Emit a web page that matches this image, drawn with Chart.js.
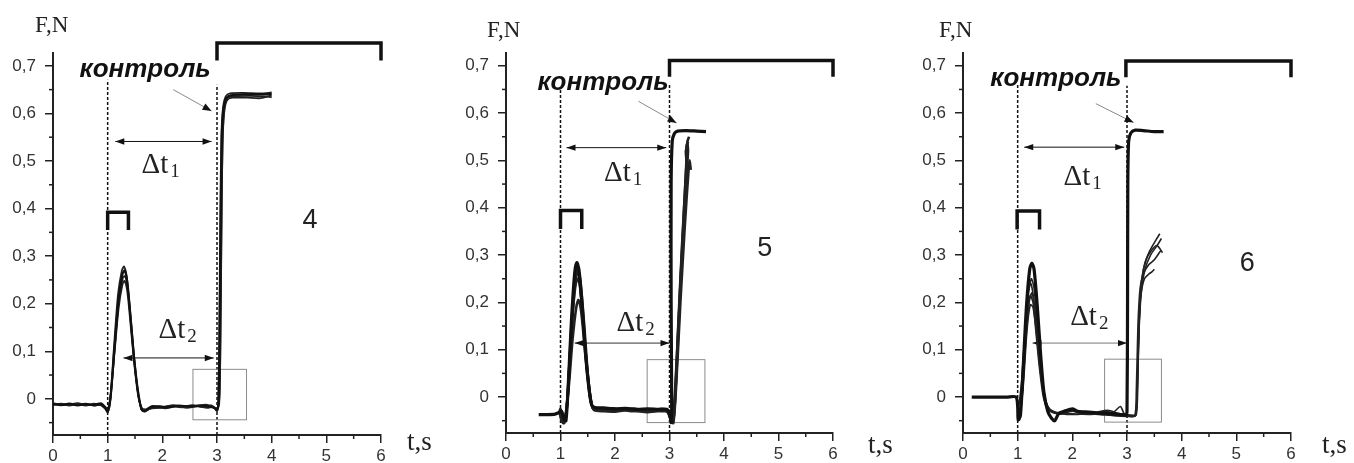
<!DOCTYPE html>
<html>
<head>
<meta charset="utf-8">
<script src="https://cdn.jsdelivr.net/npm/chart.js@4.4.1/dist/chart.umd.min.js"></script>
<style>
  body { margin: 0; background: #fff; width: 1354px; height: 463px; overflow: hidden; position: relative; }
  canvas { position: absolute; top: 0; }
</style>
</head>
<body>
<canvas id="p4" width="450" height="463" style="left:0px"></canvas>
<canvas id="p5" width="450" height="463" style="left:450px"></canvas>
<canvas id="p6" width="450" height="463" style="left:904px"></canvas>
<script>
// axis ticks
const timeTicks = [0, 1, 2, 3, 4, 5, 6];
const timeMinor = [0.5, 1.5, 2.5, 3.5, 4.5, 5.5];
const forceTicks = [0, 0.1, 0.2, 0.3, 0.4, 0.5, 0.6, 0.7];
const forceMinor = [-0.05, 0.05, 0.15, 0.25, 0.35, 0.45, 0.55, 0.65];

// panel 4 - force traces [t, F]
const trace4a = [[0,-0.011],[0.15,-0.013],[0.3,-0.010],[0.45,-0.014],[0.6,-0.011],[0.75,-0.013],[0.88,-0.011],[0.95,-0.018],[1.0,-0.027],[1.05,0.0],[1.12,0.1],[1.2,0.21],[1.27,0.262],[1.31,0.27],[1.36,0.245],[1.42,0.17],[1.48,0.09],[1.55,0.02],[1.62,-0.022],[1.68,-0.026],[1.78,-0.018],[1.95,-0.016],[2.1,-0.018],[2.3,-0.014],[2.5,-0.016],[2.7,-0.014],[2.85,-0.016],[2.96,-0.02],[3.0,-0.025],[3.03,-0.005],[3.05,0.15],[3.07,0.4],[3.09,0.56],[3.12,0.61],[3.17,0.632],[3.25,0.638],[3.5,0.64],[3.8,0.64],[4.0,0.641]];
const trace4b = [[0,-0.013],[0.15,-0.011],[0.3,-0.014],[0.45,-0.011],[0.6,-0.014],[0.75,-0.010],[0.88,-0.014],[0.95,-0.02],[1.0,-0.025],[1.06,0.01],[1.13,0.11],[1.21,0.215],[1.28,0.255],[1.32,0.258],[1.37,0.23],[1.43,0.16],[1.49,0.08],[1.56,0.01],[1.63,-0.025],[1.7,-0.024],[1.8,-0.02],[1.95,-0.019],[2.15,-0.015],[2.35,-0.018],[2.55,-0.013],[2.75,-0.017],[2.9,-0.014],[2.98,-0.022],[3.02,-0.02],[3.05,0.02],[3.07,0.2],[3.09,0.45],[3.11,0.57],[3.14,0.615],[3.2,0.633],[3.3,0.636],[3.6,0.637],[3.85,0.636],[4.0,0.634]];
const trace4c = [[0,-0.009],[0.15,-0.012],[0.3,-0.012],[0.45,-0.009],[0.6,-0.013],[0.75,-0.012],[0.88,-0.009],[0.95,-0.016],[1.0,-0.022],[1.05,0.005],[1.12,0.09],[1.2,0.19],[1.27,0.24],[1.31,0.248],[1.36,0.225],[1.42,0.155],[1.49,0.07],[1.56,0.005],[1.63,-0.02],[1.7,-0.022],[1.82,-0.015],[2.0,-0.017],[2.2,-0.013],[2.4,-0.017],[2.6,-0.015],[2.8,-0.012],[2.92,-0.016],[3.0,-0.02],[3.04,-0.01],[3.06,0.1],[3.08,0.35],[3.1,0.53],[3.13,0.6],[3.18,0.627],[3.28,0.633],[3.55,0.633],[3.8,0.632],[4.0,0.638]];
const trace4d = [[0,-0.012],[0.15,-0.010],[0.3,-0.013],[0.45,-0.012],[0.6,-0.010],[0.75,-0.014],[0.88,-0.012],[0.95,-0.019],[1.0,-0.028],[1.05,0.0],[1.11,0.1],[1.19,0.22],[1.26,0.27],[1.3,0.278],[1.35,0.255],[1.41,0.18],[1.47,0.1],[1.54,0.025],[1.61,-0.02],[1.67,-0.027],[1.76,-0.021],[1.9,-0.018],[2.05,-0.02],[2.25,-0.016],[2.45,-0.019],[2.65,-0.016],[2.82,-0.019],[2.94,-0.017],[3.0,-0.024],[3.02,-0.01],[3.04,0.12],[3.06,0.38],[3.08,0.55],[3.11,0.612],[3.16,0.636],[3.24,0.642],[3.5,0.643],[3.8,0.642],[4.0,0.644]];

// panel 5 - force traces [t, F]
const trace5a = [[0.6,-0.037],[0.75,-0.037],[0.9,-0.036],[0.97,-0.033],[1.02,-0.03],[1.06,-0.045],[1.1,-0.05],[1.14,0.02],[1.2,0.16],[1.26,0.262],[1.3,0.284],[1.34,0.268],[1.4,0.19],[1.46,0.09],[1.52,0.02],[1.57,-0.016],[1.63,-0.022],[1.8,-0.023],[2.0,-0.025],[2.2,-0.024],[2.4,-0.026],[2.6,-0.025],[2.8,-0.026],[2.95,-0.026],[3.0,-0.035],[3.03,-0.054],[3.04,-0.02],[3.03,0.2],[3.03,0.45],[3.05,0.54],[3.09,0.557],[3.15,0.562],[3.3,0.563],[3.5,0.562],[3.67,0.561]];
const trace5b = [[0.97,-0.035],[1.0,-0.025],[1.03,-0.045],[1.08,-0.05],[1.13,0.0],[1.2,0.15],[1.27,0.25],[1.31,0.265],[1.36,0.235],[1.42,0.15],[1.48,0.07],[1.55,0.0],[1.6,-0.025],[1.7,-0.027],[1.9,-0.028],[2.1,-0.026],[2.3,-0.03],[2.5,-0.027],[2.7,-0.03],[2.9,-0.028],[3.0,-0.03],[3.05,-0.052],[3.08,-0.03],[3.15,0.12],[3.22,0.28],[3.29,0.43],[3.34,0.52],[3.33,0.54],[3.36,0.55]];
const trace5c = [[0.98,-0.03],[1.02,-0.05],[1.07,-0.055],[1.15,0.02],[1.22,0.12],[1.29,0.19],[1.33,0.205],[1.38,0.18],[1.44,0.11],[1.5,0.04],[1.56,-0.01],[1.62,-0.028],[1.8,-0.03],[2.0,-0.031],[2.2,-0.028],[2.4,-0.03],[2.6,-0.032],[2.8,-0.029],[2.95,-0.03],[3.04,-0.05],[3.08,-0.04],[3.14,0.08],[3.2,0.24],[3.26,0.38],[3.31,0.5],[3.3,0.52],[3.33,0.53]];
const trace5d = [[0.99,-0.032],[1.04,-0.05],[1.1,-0.04],[1.17,0.08],[1.24,0.2],[1.3,0.25],[1.35,0.24],[1.41,0.17],[1.47,0.08],[1.54,0.0],[1.6,-0.025],[1.75,-0.026],[1.95,-0.024],[2.15,-0.027],[2.35,-0.025],[2.55,-0.028],[2.75,-0.026],[2.95,-0.027],[3.02,-0.045],[3.07,-0.055],[3.12,0.02],[3.2,0.2],[3.28,0.36],[3.35,0.48],[3.37,0.5],[3.39,0.48]];
const trace5e = [[1.0,-0.03],[1.05,-0.055],[1.12,-0.02],[1.19,0.12],[1.26,0.23],[1.31,0.27],[1.36,0.25],[1.43,0.16],[1.5,0.05],[1.56,-0.01],[1.62,-0.024],[1.8,-0.027],[2.0,-0.028],[2.3,-0.027],[2.6,-0.029],[2.9,-0.03],[3.0,-0.032],[3.06,-0.054],[3.1,-0.01],[3.16,0.15],[3.23,0.32],[3.3,0.47],[3.32,0.51],[3.31,0.53],[3.34,0.54]];

// panel 6 - force traces [t, F]
const trace6a = [[0.16,0],[0.4,0],[0.6,0],[0.8,0],[0.97,0],[1.0,-0.02],[1.01,-0.048],[1.05,-0.04],[1.1,0.06],[1.16,0.19],[1.22,0.27],[1.26,0.283],[1.3,0.27],[1.36,0.19],[1.42,0.09],[1.48,0.01],[1.55,-0.03],[1.62,-0.045],[1.68,-0.05],[1.75,-0.035],[1.85,-0.03],[2.0,-0.025],[2.1,-0.03],[2.3,-0.032],[2.5,-0.034],[2.7,-0.035],[2.9,-0.037],[2.98,-0.038],[3.0,-0.03],[3.01,0.2],[3.015,0.45],[3.03,0.54],[3.07,0.558],[3.15,0.564],[3.3,0.563],[3.5,0.561],[3.67,0.561]];
const trace6b = [[1.0,-0.045],[1.05,-0.04],[1.12,0.08],[1.18,0.18],[1.23,0.215],[1.28,0.2],[1.34,0.13],[1.4,0.06],[1.47,0.0],[1.55,-0.025],[1.65,-0.033],[1.8,-0.034],[2.0,-0.03],[2.2,-0.035],[2.4,-0.036],[2.6,-0.033],[2.8,-0.038],[3.0,-0.04],[3.15,-0.04],[3.18,0.0],[3.21,0.12],[3.25,0.22],[3.32,0.28],[3.42,0.31],[3.52,0.33],[3.6,0.345]];
const trace6c = [[1.02,-0.05],[1.08,0.0],[1.15,0.12],[1.21,0.2],[1.26,0.22],[1.31,0.19],[1.37,0.12],[1.44,0.04],[1.52,-0.015],[1.62,-0.03],[1.8,-0.036],[2.0,-0.028],[2.2,-0.033],[2.4,-0.035],[2.6,-0.03],[2.75,-0.032],[2.88,-0.02],[2.95,-0.035],[3.1,-0.04],[3.16,-0.038],[3.19,0.02],[3.22,0.14],[3.26,0.22],[3.33,0.27],[3.43,0.3],[3.55,0.32],[3.63,0.335]];
const trace6d = [[1.0,-0.04],[1.06,-0.02],[1.13,0.1],[1.2,0.22],[1.25,0.25],[1.3,0.23],[1.36,0.15],[1.43,0.06],[1.5,0.0],[1.58,-0.025],[1.7,-0.035],[1.85,-0.034],[2.05,-0.036],[2.3,-0.037],[2.55,-0.036],[2.8,-0.04],[3.0,-0.041],[3.14,-0.04],[3.17,0.01],[3.2,0.15],[3.24,0.23],[3.3,0.26],[3.4,0.28],[3.5,0.29],[3.62,0.31]];
const trace6e = [[1.03,-0.05],[1.1,0.02],[1.17,0.14],[1.23,0.195],[1.28,0.19],[1.34,0.14],[1.4,0.07],[1.47,0.01],[1.55,-0.02],[1.65,-0.03],[1.8,-0.035],[2.0,-0.037],[2.3,-0.035],[2.6,-0.038],[2.9,-0.039],[3.05,-0.04],[3.16,-0.039],[3.19,0.03],[3.22,0.16],[3.26,0.22],[3.32,0.25],[3.4,0.26],[3.46,0.265],[3.5,0.27]];
const trace6f = [[1.0,-0.04],[1.07,0.03],[1.14,0.15],[1.2,0.23],[1.24,0.24],[1.29,0.21],[1.35,0.14],[1.42,0.05],[1.5,-0.01],[1.6,-0.03],[1.75,-0.033],[1.95,-0.028],[2.15,-0.034],[2.4,-0.033],[2.65,-0.028],[2.85,-0.035],[3.05,-0.038],[3.17,-0.037],[3.2,0.06],[3.23,0.18],[3.27,0.25],[3.35,0.29],[3.45,0.31],[3.55,0.32],[3.65,0.305]];

// annotation places, in axis units
const notes4 = { dashTop: [0.671, 0.66], big: [3, 6, 0.748, 0.711], small: [1.0, 1.38, 0.392, 0.355],
  ctrl: [1.685, 0.676], ctrlArrow: [2.2, 0.65, 2.9, 0.605], dt1: [1.14, 2.9, 0.541, 1.97, 0.474],
  dt2: [1.29, 2.94, 0.086, 2.28, 0.127], dt2Color: '#111', box: [2.56, 3.54, -0.044, 0.062], num: ['4', 4.7, 0.359],
  fn: [-18, 32], ts: [26, 450] };
const notes5 = { dashTop: [0.655, 0.663], big: [3, 6, 0.711, 0.677], small: [1.0, 1.39, 0.394, 0.355],
  ctrl: [1.78, 0.648], ctrlArrow: [2.43, 0.625, 3.13, 0.579], dt1: [1.11, 2.94, 0.527, 2.15, 0.456],
  dt2: [1.26, 3.0, 0.114, 2.38, 0.139], dt2Color: '#333', box: [2.59, 3.65, -0.054, 0.079], num: ['5', 4.75, 0.299],
  fn: [-19, 37], ts: [35, 453] };
const notes6 = { dashTop: [0.662, 0.658], big: [2.98, 6, 0.71, 0.676], small: [0.99, 1.4, 0.393, 0.354],
  ctrl: [1.70, 0.657], ctrlArrow: [2.43, 0.62, 3.12, 0.58], dt1: [1.12, 2.95, 0.528, 2.19, 0.448],
  dt2: [1.27, 3.0, 0.114, 2.31, 0.152], dt2Color: '#777', box: [2.59, 3.63, -0.053, 0.08], num: ['6', 5.2, 0.267],
  fn: [-24, 37], ts: [31, 453] };

function head(ctx, x1, y1, x2, y2, len, half) {
  const a = Math.atan2(y2 - y1, x2 - x1);
  ctx.beginPath();
  ctx.moveTo(x2, y2);
  ctx.lineTo(x2 - len * Math.cos(a) + half * Math.sin(a), y2 - len * Math.sin(a) - half * Math.cos(a));
  ctx.lineTo(x2 - len * Math.cos(a) - half * Math.sin(a), y2 - len * Math.sin(a) + half * Math.cos(a));
  ctx.closePath();
  ctx.fill();
}

function deltaLabel(ctx, x, y, sub) {
  ctx.font = '29px "Liberation Serif"';
  const w1 = ctx.measureText('\u0394t').width;
  ctx.font = '19px "Liberation Serif"';
  const w2 = ctx.measureText(sub).width;
  const left = x - (w1 + w2 + 2) / 2;
  ctx.textAlign = 'left';
  ctx.textBaseline = 'alphabetic';
  ctx.font = '29px "Liberation Serif"';
  ctx.fillText('\u0394t', left, y);
  ctx.font = '19px "Liberation Serif"';
  ctx.fillText(sub, left + w1 + 2, y + 4);
}

const panelMarks = {
  id: 'panelMarks',
  beforeDatasetsDraw(chart, args, n) {
    const { ctx, chartArea: a, scales: { x, y } } = chart;
    const X = v => x.getPixelForValue(v), Y = v => y.getPixelForValue(v);
    ctx.save();
    // dashed markers at t=1 and t=3
    ctx.strokeStyle = '#111';
    ctx.lineWidth = 1.5;
    ctx.setLineDash([3, 2]);
    [[1, n.dashTop[0]], [3, n.dashTop[1]]].forEach(([t, top]) => {
      ctx.beginPath();
      ctx.moveTo(X(t), a.bottom);
      ctx.lineTo(X(t), Y(top));
      ctx.stroke();
    });
    ctx.setLineDash([]);
    // grey box
    const b = n.box;
    ctx.strokeStyle = '#8c8c8c';
    ctx.lineWidth = 1;
    ctx.strokeRect(X(b[0]), Y(b[3]), X(b[1]) - X(b[0]), Y(b[2]) - Y(b[3]));
    // double arrows
    [[n.dt1, '#111'], [n.dt2, n.dt2Color]].forEach(([d, col]) => {
      const x1 = X(d[0]), x2 = X(d[1]), yy = Y(d[2]);
      ctx.strokeStyle = col;
      ctx.fillStyle = '#111';
      ctx.lineWidth = 1;
      ctx.beginPath();
      ctx.moveTo(x1, yy);
      ctx.lineTo(x2, yy);
      ctx.stroke();
      head(ctx, x2 - 1, yy, x2, yy, 9, 3.2);
      head(ctx, x1 + 1, yy, x1, yy, 9, 3.2);
    });
    ctx.restore();
  },
  afterDraw(chart, args, n) {
    const { ctx, chartArea: a, scales: { x, y } } = chart;
    const X = v => x.getPixelForValue(v), Y = v => y.getPixelForValue(v);
    ctx.save();
    // minor ticks
    ctx.strokeStyle = '#222';
    ctx.lineWidth = 1.5;
    forceMinor.forEach(v => {
      ctx.beginPath();
      ctx.moveTo(a.left - 4, Y(v));
      ctx.lineTo(a.left, Y(v));
      ctx.stroke();
    });
    timeMinor.forEach(v => {
      ctx.beginPath();
      ctx.moveTo(X(v), a.bottom);
      ctx.lineTo(X(v), a.bottom + 4);
      ctx.stroke();
    });
    // brackets
    ctx.strokeStyle = '#111';
    ctx.lineWidth = 3.5;
    ctx.lineJoin = 'miter';
    [n.big, n.small].forEach(s => {
      ctx.beginPath();
      ctx.moveTo(X(s[0]), Y(s[3]));
      ctx.lineTo(X(s[0]), Y(s[2]));
      ctx.lineTo(X(s[1]), Y(s[2]));
      ctx.lineTo(X(s[1]), Y(s[3]));
      ctx.stroke();
    });
    // "контроль" pointer
    const c = n.ctrlArrow;
    ctx.strokeStyle = '#8a8a8a';
    ctx.fillStyle = '#111';
    ctx.lineWidth = 1;
    ctx.beginPath();
    ctx.moveTo(X(c[0]), Y(c[1]));
    ctx.lineTo(X(c[2]), Y(c[3]));
    ctx.stroke();
    head(ctx, X(c[0]), Y(c[1]), X(c[2]), Y(c[3]), 9, 3.5);
    // texts
    ctx.fillStyle = '#111';
    ctx.font = 'italic bold 26px "Liberation Sans"';
    ctx.textAlign = 'center';
    ctx.textBaseline = 'alphabetic';
    ctx.fillText('контроль', X(n.ctrl[0]), Y(n.ctrl[1]));
    ctx.fillStyle = '#222';
    deltaLabel(ctx, X(n.dt1[3]), Y(n.dt1[4]), '1');
    deltaLabel(ctx, X(n.dt2[3]), Y(n.dt2[4]), '2');
    ctx.font = '27px "Liberation Sans"';
    ctx.textAlign = 'center';
    ctx.fillText(n.num[0], X(n.num[1]), Y(n.num[2]));
    ctx.textAlign = 'left';
    ctx.font = '23px "Liberation Serif"';
    ctx.fillText('F,N', a.left + n.fn[0], n.fn[1]);
    ctx.font = '27px "Liberation Serif"';
    ctx.fillText('t,s', a.right + n.ts[0], n.ts[1]);
    ctx.restore();
  }
};

function makePanel(id, area, traces, widths, notes) {
  const canvas = document.getElementById(id);
  return new Chart(canvas, {
    type: 'scatter',
    data: {
      datasets: traces.map((tr, i) => ({
        data: tr.map(p => ({ x: p[0], y: p[1] })),
        showLine: true,
        borderColor: i === 0 ? '#111' : '#222',
        borderWidth: widths[i],
        pointRadius: 0,
        tension: 0.25,
        fill: false
      }))
    },
    options: {
      responsive: false,
      animation: false,
      layout: { padding: { top: area.t, right: canvas.width - area.r, left: 0, bottom: 0 } },
      plugins: { legend: { display: false }, tooltip: { enabled: false }, panelMarks: notes },
      scales: {
        x: {
          type: 'linear', min: 0, max: 6,
          afterBuildTicks: s => { s.ticks = timeTicks.map(v => ({ value: v })); },
          afterFit: s => { s.height = canvas.height - area.b; },
          grid: { drawOnChartArea: false, tickLength: 8, color: '#222', lineWidth: 1.5 },
          border: { display: true, color: '#222', width: 2 },
          ticks: { color: '#333', padding: 3, font: { family: 'Liberation Sans', size: 17 }, maxRotation: 0 }
        },
        y: {
          type: 'linear', min: -0.076, max: 0.727,
          afterBuildTicks: s => { s.ticks = forceTicks.map(v => ({ value: v })); },
          afterFit: s => { s.width = area.l; },
          grid: { drawOnChartArea: false, tickLength: 8, color: '#222', lineWidth: 1.5 },
          border: { display: true, color: '#222', width: 2 },
          ticks: {
            color: '#333', padding: 9, font: { family: 'Liberation Sans', size: 17 },
            callback: v => v === 0 ? '0' : v.toFixed(1).replace('.', ',')
          }
        }
      }
    },
    plugins: [panelMarks]
  });
}

makePanel('p4', { l: 53, r: 381, t: 53, b: 435 }, [trace4a, trace4b, trace4c, trace4d], [2.2, 1.8, 1.8, 1.8], notes4);
makePanel('p5', { l: 56, r: 383, t: 53, b: 433 }, [trace5a, trace5b, trace5c, trace5d, trace5e], [3.2, 2.6, 2.6, 2.6, 2.6], notes5);
makePanel('p6', { l: 59, r: 387, t: 53, b: 433 }, [trace6a, trace6b, trace6c, trace6d, trace6e, trace6f], [3.2, 1.6, 1.6, 1.6, 1.6, 1.6], notes6);
</script>
</body>
</html>
